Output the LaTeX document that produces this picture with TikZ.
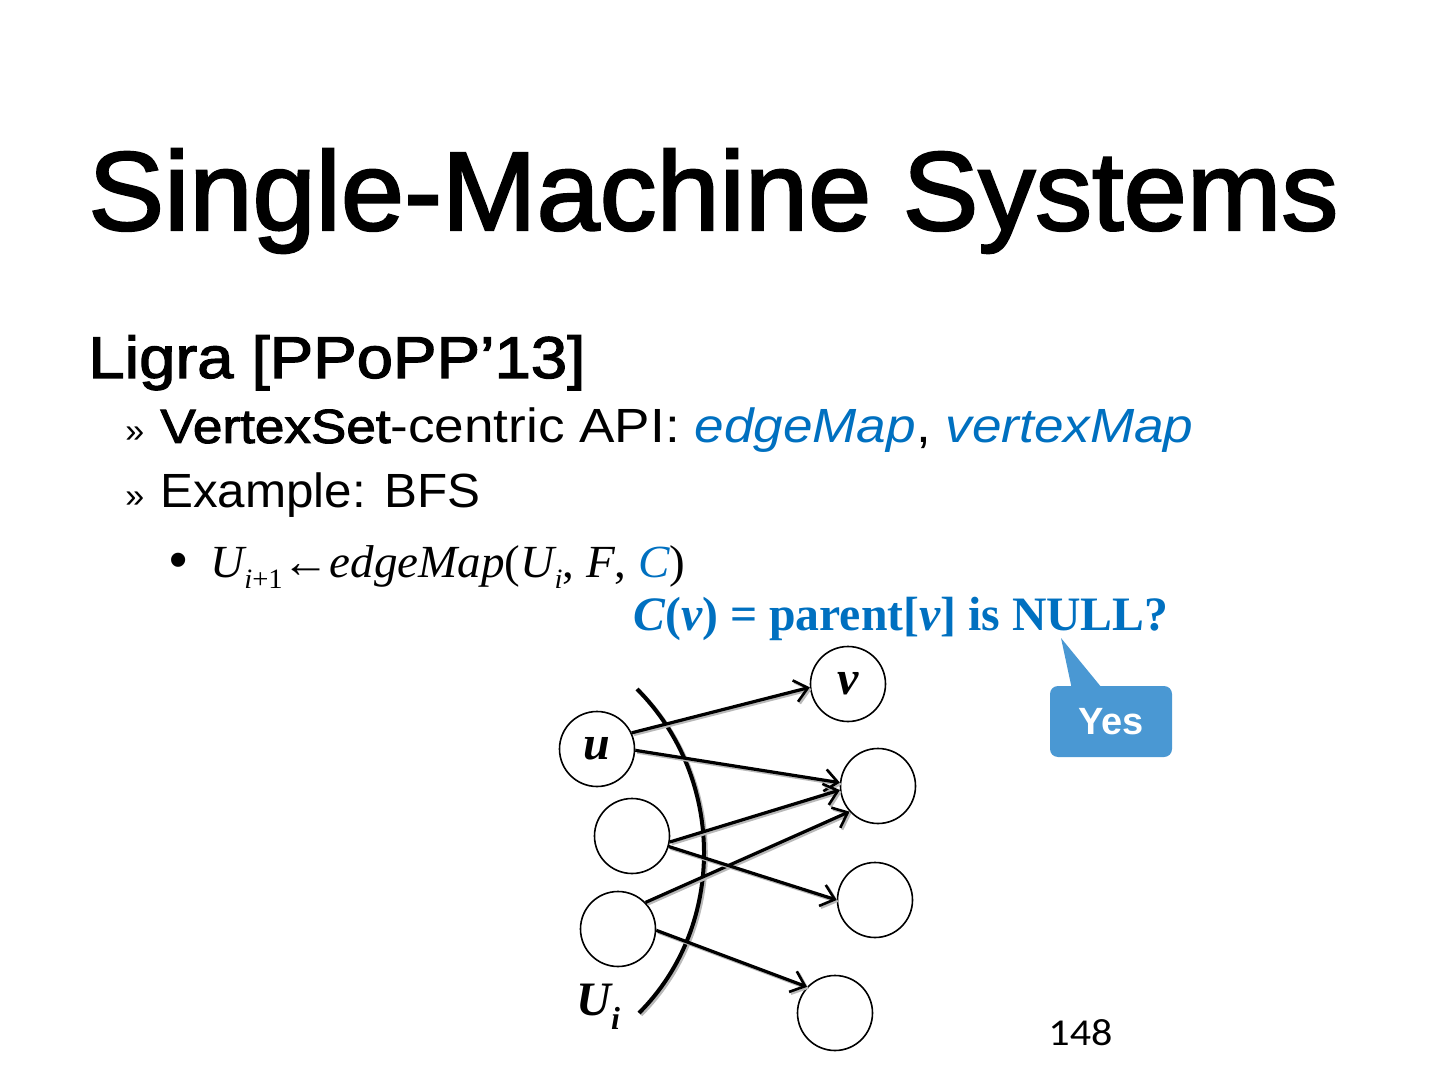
\documentclass[tikz,border=0pt]{standalone}
\usepackage{fontspec}
\usepackage{graphicx}
\usetikzlibrary{arrows.meta}
\setmainfont{Liberation Serif}
\newfontfamily\sansf{Liberation Sans}
\newfontfamily\sansmed[FakeBold=2]{Liberation Sans}
\newfontfamily\numf{Carlito}
\definecolor{slideblue}{HTML}{0070C0}
\definecolor{calloutblue}{HTML}{4A98D3}
\newcommand\fitw[2]{\resizebox{#1}{\height}{#2}}
\begin{document}
\begin{tikzpicture}[x=0.5pt,y=-0.5pt,
  txt/.style={inner sep=0pt, anchor=base west},
  vert/.style={circle, draw=black, line width=0.8pt, minimum size=37.5pt, inner sep=0pt,
    font=\fontsize{24}{24}\selectfont\bfseries\itshape},
  edgearrow/.style={line width=1.6pt, -{Straight Barb[length=6.5pt,width=11pt,line width=1.3pt]},
    preaction={draw=gray!55, line width=1.6pt, transform canvas={shift={(0.9pt,-0.9pt)}}}},
]
\path[use as bounding box] (0,0) rectangle (1440,1080);

% title and bullets
\node[txt] (title) at (88,230) {\fitw{625pt}{\sansmed\fontsize{56}{60}\selectfont Single-Machine Systems}};
\node[txt] (ligra) at (88,378) {\fitw{248.5pt}{\sansmed\fontsize{29.5}{32}\selectfont Ligra [PPoPP’13]}};
\node[txt] (b1) at (125,443) {\sansf\fontsize{17}{20}\selectfont »};
\node[txt] (l1) at (160,443) {\fitw{516.5pt}{\sansf\fontsize{24}{26}\selectfont{\sansmed VertexSet}-centric API: \textcolor{slideblue}{\itshape edgeMap}, \textcolor{slideblue}{\itshape vertexMap}}};
\node[txt] (b2) at (125,508) {\sansf\fontsize{17}{20}\selectfont »};
\node[txt] (l2) at (160,508) {\fitw{160pt}{\sansf\fontsize{24}{26}\selectfont Example: BFS}};
\node[txt] (b3) at (169,577) {\sansf\fontsize{26}{28}\selectfont •};
\node[txt] (l3) at (210,577) {\fitw{237.5pt}{\fontsize{23}{26}\selectfont\itshape U\raisebox{-0.25em}{\fontsize{14}{14}\selectfont i\upshape +1}\upshape ←\itshape edgeMap\upshape(\itshape U\raisebox{-0.25em}{\fontsize{14}{14}\selectfont i}\upshape, \itshape F\upshape, \textcolor{slideblue}{\itshape C}\upshape)}};
\node[txt, text=slideblue] (cond) at (633,630) {\fitw{267.5pt}{\fontsize{24}{28}\selectfont\bfseries\itshape C\upshape(\itshape v\upshape) = parent[\itshape v\upshape] is NULL?}};

% vertices
\node[vert] (v) at (848,684) {v};
\node[vert] (u) at (597,749) {u};
\node[vert] (r2) at (878,786) {};
\node[vert] (l2c) at (632,836) {};
\node[vert] (r3) at (875,900) {};
\node[vert] (l3c) at (618,929) {};
\node[vert] (r4) at (835,1013) {};

% frontier boundary
\draw[line width=2pt, preaction={draw=gray!55, line width=2pt, transform canvas={shift={(0.9pt,-0.9pt)}}}]
  (637,689) .. controls (725,777) and (727,925) .. (639,1013);
\node[txt] (ui) at (576,1015) {\fontsize{24}{24}\selectfont\bfseries\itshape U\raisebox{-0.3em}{\fontsize{16}{16}\selectfont i}};

% edges
\draw[edgearrow] (u.25) -- (v.185);
\draw[edgearrow] (u.-2) -- (r2.175);
\draw[edgearrow] (l2c.-9) -- (r2.186);
\draw[edgearrow] (l3c.44) -- (r2.222);
\draw[edgearrow] (l2c.-16) -- (r3.180);
\draw[edgearrow] (l3c.-2) -- (r4.137);

% callout
\node[fill=calloutblue, rounded corners=4pt, minimum width=61pt, minimum height=35.5pt, inner sep=0pt,
  text=white, font=\sansf\bfseries\fontsize{19}{20}\selectfont] (yes) at (1111,721.5) {Yes};
\coordinate (ytip) at (1061,638);
\fill[calloutblue] (ytip) -- ([xshift=11pt,yshift=-1pt]yes.north west) -- ([xshift=26pt,yshift=-1pt]yes.north west) -- cycle;

% page number
\node[txt] (page) at (1048,1045) {\fitw{32pt}{\numf\fontsize{19}{20}\selectfont 148}};
\end{tikzpicture}
\end{document}
